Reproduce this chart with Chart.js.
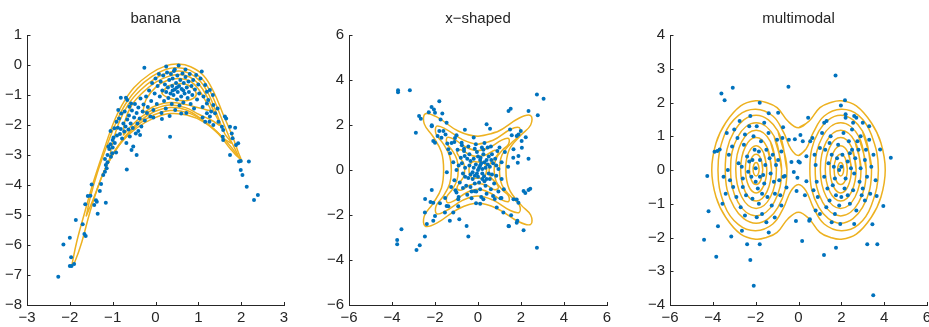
<!DOCTYPE html>
<html>
<head>
<meta charset="utf-8">
<script src="https://cdn.jsdelivr.net/npm/chart.js@4.4.1/dist/chart.umd.min.js"></script>
<style>
  html, body { margin: 0; padding: 0; background: #fff; }
  #wrap { position: relative; width: 929px; height: 327px; overflow: hidden; }
  canvas { position: absolute; top: 0; }
</style>
</head>
<body>
<div id="wrap">
  <canvas id="banana" width="310" height="327" style="left:0px"></canvas>
  <canvas id="xshaped" width="310" height="327" style="left:310px"></canvas>
  <canvas id="multimodal" width="309" height="327" style="left:620px"></canvas>
</div>
<script>
// ---- banana ----
const bananaPoints = [
  [-2.27,-7.06],[-2.15,-5.98],[-2.0,-5.76],[-1.97,-6.41],[-2.0,-6.7],[-1.96,-6.7],[-1.9,-6.63],[-1.86,-5.17],[-1.7,-5.31],
  [-1.66,-5.63],[-1.63,-5.7],[-1.64,-4.64],[-1.58,-4.37],[-1.52,-4.36],[-1.49,-3.98],[-1.43,-4.67],[-1.39,-4.51],[-1.37,-4.56],
  [-1.35,-4.96],[-1.3,-4.2],[-1.27,-3.97],[-1.22,-3.67],[-1.16,-4.59],[-1.18,-3.56],[-1.14,-3.44],[-1.16,-3.33],[-1.12,-3.24],
  [-1.18,-3.13],[-1.12,-3.0],[-1.1,-2.72],[-1.08,-2.8],[-1.05,-2.64],[-1.01,-2.94],[-1.04,-3.06],[-0.98,-2.42],[-1.0,-2.5],
  [-0.96,-2.11],[-0.91,-1.89],[-0.88,-2.09],[-0.81,-2.13],[-0.92,-2.92],[-0.81,-1.09],[-0.69,-1.09],[-0.66,-1.17],[-0.67,-3.48],
  [-0.61,-1.39],[-0.57,-1.28],[-0.52,-2.72],[-0.56,-2.83],[-0.44,-3.0],[-0.36,-2.33],[-0.4,-2.2],[-0.26,-0.09],
  [-0.85,-1.78],[-0.83,-2.3],[-0.8,-1.62],[-0.78,-2.45],[-0.75,-1.95],[-0.73,-2.22],[-0.72,-1.55],[-0.7,-2.05],[-0.68,-2.6],
  [-0.66,-1.82],[-0.63,-2.15],[-0.62,-1.68],[-0.6,-2.38],[-0.58,-1.95],[-0.55,-1.52],[-0.53,-2.1],[-0.5,-1.75],[-0.48,-1.3],
  [-0.46,-2.28],[-0.44,-1.6],[-0.42,-1.95],[-0.4,-1.42],[-0.37,-1.78],[-0.35,-1.12],[-0.33,-2.05],[-0.3,-1.55],[-0.28,-1.32],
  [-0.25,-1.85],[-0.22,-1.05],[-0.2,-1.6],[-0.18,-1.4],[-0.15,-0.85],[-0.12,-1.72],[-0.1,-1.2],[-0.08,-0.6],[-0.05,-1.5],
  [-0.02,-0.95],[-1.05,-2.2],[-0.95,-2.6],[-0.9,-2.35],[-1.0,-2.75],[-0.87,-1.5],
  [0.0,-0.45],[0.03,-1.3],[0.05,-0.7],[0.08,-0.3],[0.1,-1.05],[0.12,-0.55],[0.14,-1.6],[0.16,-0.85],[0.18,-0.35],[0.2,-1.2],
  [0.22,-0.65],[0.24,-1.45],[0.25,-0.9],[0.27,-0.25],[0.29,-0.75],[0.3,-1.1],[0.32,-0.5],[0.33,-1.7],[0.35,-0.95],[0.36,-0.3],
  [0.38,-1.3],[0.39,-0.7],[0.4,-0.45],[0.42,-1.0],[0.43,-0.2],[0.45,-0.82],[0.46,-1.5],[0.48,-0.6],[0.5,-1.15],[0.51,-0.35],
  [0.52,-0.9],[0.54,-0.02],[0.55,-0.7],[0.56,-1.35],[0.58,-0.5],[0.6,-1.05],[0.61,-0.8],[0.63,-0.28],[0.65,-1.25],[0.66,-0.6],
  [0.68,-0.95],[0.7,-0.4],[0.72,-1.6],[0.73,-0.75],[0.75,-1.1],[0.77,-0.55],[0.78,-0.9],[0.8,-0.3],[0.82,-1.3],[0.84,-0.7],
  [0.86,-1.0],[0.88,-0.5],[0.9,-1.45],[0.92,-0.82],[0.95,-0.33],[0.97,-1.15],[1.0,-0.65],[1.02,-0.95],[1.05,-0.45],[1.08,-0.22],
  [0.34,-2.39],[0.15,-1.8],[-0.05,-1.75],[0.6,-1.62],[0.45,-0.15],[0.25,-0.05],[0.7,-0.15],[0.65,-0.85],[0.5,-0.75],[0.4,-0.85],
  [1.16,-0.67],[1.2,-0.89],[1.27,-0.83],[1.34,-1.0],[1.23,-1.17],[1.2,-1.28],[1.35,-1.33],[1.39,-1.61],[1.27,-1.72],[1.2,-1.61],
  [1.16,-1.89],[1.26,-1.89],[1.35,-2.0],[1.47,-1.89],[1.55,-2.06],[1.58,-2.17],[1.62,-1.72],[1.65,-1.78],[1.74,-2.06],[1.78,-2.28],
  [1.57,-2.39],[1.58,-2.5],[1.8,-2.44],[1.86,-2.09],[1.74,-3.0],[1.88,-2.67],[1.93,-2.61],[1.95,-3.22],[1.99,-3.2],[2.18,-3.22],
  [1.99,-3.5],[2.03,-3.67],[2.13,-4.06],[2.3,-4.5],[2.39,-4.33],[1.1,-1.4],[1.12,-1.05],[1.45,-1.45],[1.3,-1.55],[1.1,-1.75]
];
const bananaContours = [
  [[-1.96,-6.72],[-1.84,-5.9],[-1.65,-4.9],[-1.45,-3.9],[-1.22,-2.9],[-1.0,-2.0],[-0.78,-1.33],[-0.5,-0.75],[-0.13,-0.3],[0.25,-0.02],
   [0.53,0.03],[0.82,-0.06],[1.12,-0.35],[1.36,-0.9],[1.58,-1.65],[1.79,-2.35],[1.93,-2.9],[2.01,-3.22],[1.83,-2.85],[1.52,-2.35],
   [1.13,-1.9],[0.73,-1.67],[0.34,-1.62],[-0.05,-1.78],[-0.44,-2.1],[-0.79,-2.57],[-1.06,-3.12],[-1.3,-3.9],[-1.53,-4.9],[-1.72,-5.9],
   [-1.88,-6.55],[-1.96,-6.72]],
  [[-1.62,-5.05],[-1.52,-4.4],[-1.36,-3.6],[-1.15,-2.75],[-0.93,-1.95],[-0.7,-1.3],[-0.42,-0.78],[-0.08,-0.38],[0.25,-0.14],[0.53,-0.09],
   [0.8,-0.17],[1.08,-0.45],[1.3,-0.95],[1.52,-1.7],[1.72,-2.4],[1.93,-3.05],[1.75,-2.8],[1.47,-2.3],[1.1,-1.85],[0.73,-1.58],
   [0.34,-1.52],[-0.03,-1.66],[-0.4,-1.98],[-0.73,-2.45],[-1.0,-3.0],[-1.22,-3.6],[-1.42,-4.35],[-1.62,-5.05]],
  [[-1.08,-3.2],[-1.02,-2.7],[-0.86,-1.95],[-0.64,-1.32],[-0.36,-0.85],[-0.03,-0.47],[0.28,-0.26],[0.55,-0.2],[0.8,-0.28],[1.05,-0.55],
   [1.25,-1.0],[1.45,-1.7],[1.62,-2.3],[1.78,-2.6],[1.6,-2.45],[1.38,-2.15],[1.05,-1.78],[0.72,-1.5],[0.34,-1.42],[-0.02,-1.55],
   [-0.36,-1.86],[-0.66,-2.3],[-0.9,-2.75],[-1.08,-3.2]],
  [[-0.75,-2.35],[-0.72,-1.9],[-0.56,-1.35],[-0.3,-0.92],[0.0,-0.58],[0.3,-0.38],[0.56,-0.32],[0.8,-0.4],[1.02,-0.65],[1.2,-1.05],
   [1.38,-1.6],[1.5,-2.0],[1.32,-1.85],[1.02,-1.65],[0.7,-1.42],[0.34,-1.33],[0.0,-1.45],[-0.32,-1.72],[-0.58,-2.05],[-0.75,-2.35]],
  [[-0.3,-1.6],[-0.22,-1.15],[0.02,-0.72],[0.3,-0.5],[0.58,-0.45],[0.82,-0.55],[1.0,-0.8],[1.15,-1.15],[1.28,-1.5],[1.08,-1.45],
   [0.7,-1.32],[0.35,-1.25],[0.02,-1.35],[-0.3,-1.6]],
  [[0.15,-0.95],[0.3,-0.7],[0.58,-0.62],[0.82,-0.72],[0.95,-1.0],[0.75,-1.18],[0.45,-1.15],[0.15,-0.95],[0.3,-0.7]]
];
const bananaXTicks = [-3, 3, 1];
const bananaYTicks = [-8, 1, 1];

// ---- x-shaped ----
const xPoints = [
  [-3.72,3.55],[-3.72,3.46],[-3.17,3.55],[-2.89,1.66],[-2.74,2.4],[-2.66,2.28],[-2.29,2.57],[-2.16,2.8],[-2.05,2.69],[-1.8,3.06],
  [-2.0,2.54],[-1.66,2.51],[-2.15,1.95],[-2.08,1.29],[-2.0,1.21],[-1.8,1.73],[-1.7,1.43],[-1.74,2.25],[-1.51,1.58],[-1.43,1.18],
  [-1.0,1.54],[-0.76,1.21],[-0.65,0.95],[0.4,2.03],[0.56,1.83],[1.42,2.62],[1.52,2.72],[1.49,1.8],[1.57,1.54],[1.88,1.58],
  [1.99,1.73],[2.35,2.62],[2.74,3.36],[3.05,3.17],[2.78,2.43],[2.22,1.46],[1.88,0.62],[2.04,0.99],[2.35,0.5],[1.65,0.92],
  [2.12,-0.93],[2.35,-0.89],[2.43,-0.83],[1.65,-1.3],[1.88,-1.45],[1.54,-2.01],[1.8,-2.34],[1.83,-2.26],[2.12,-2.68],[1.42,-2.49],
  [2.74,-3.45],[1.18,-1.89],[0.87,-1.67],[0.25,-1.3],[-0.09,-1.48],[-0.53,-2.49],[-0.45,-2.96],[-0.87,-2.19],[-1.15,-1.89],[-1.31,-2.26],
  [-1.54,-1.89],[-1.46,-1.6],[-1.77,-1.48],[-2.08,-1.45],[-2.21,-1.42],[-2.47,-1.89],[-2.08,-2.26],[-2.0,-2.04],[-2.47,-2.96],[-2.71,-3.34],
  [-2.86,-3.55],[-3.56,-2.63],[-3.76,-3.11],[-3.76,-3.3],[-1.0,-1.0],[-0.92,-1.3],[-2.15,1.99],[-1.88,1.51],[-1.61,1.73],[-1.46,2.1],
  [-1.38,0.92],[-1.23,1.2],[-1.07,1.42],[-0.61,1.79],[1.8,1.51],[2.03,1.29],[1.85,0.32],[1.64,0.55],[2.2,-1.02],[1.8,-1.31],
  [1.44,-2.5],[1.09,-1.24],[0.78,-1.29],[-0.15,-0.94],[-0.92,-1.61],[-1.38,-1.61],[-1.53,-1.24],[-2.15,-0.89],[-2.46,-1.29],[-2.38,-2.4],
  [0.05,0.1],[-0.1,0.25],[0.2,-0.15],[-0.25,-0.1],[0.3,0.35],[-0.35,0.4],[0.4,-0.4],[-0.45,-0.35],[0.12,0.55],[-0.15,-0.6],
  [0.55,0.15],[-0.6,0.1],[0.65,-0.2],[-0.7,-0.15],[0.1,-0.85],[-0.05,0.8],[0.25,0.9],[-0.3,-0.95],[0.8,0.5],[-0.8,0.55],
  [0.75,-0.6],[-0.85,-0.55],[0.95,0.05],[-1.0,0.0],[0.0,-0.3],[0.15,0.3],[-0.2,0.1],[0.35,-0.7],[-0.4,0.7],[0.5,0.6],
  [-0.55,-0.7],[0.6,-0.85],[-0.65,0.85],[0.9,0.85],[-0.95,0.9],[0.95,-0.95],[-1.05,-0.9],[1.1,0.35],[-1.15,0.35],[1.1,-0.4],
  [-1.1,-0.45],[0.45,1.0],[-0.45,1.05],[0.4,-1.05],[-0.5,-1.1],[0.2,0.05],[-0.05,-0.15],[0.1,0.45],[-0.2,0.5],[0.3,-0.5],
  [-0.25,-0.4],[0.45,0.25],[-0.4,0.2],[0.55,-0.4],[-0.6,-0.3],[0.7,0.3],[-0.75,0.3],[0.2,-0.4],[0.0,0.6],[0.65,0.7],
  [-0.7,-0.8],[0.15,-1.2],[-0.1,1.15],[0.3,1.2],[-0.3,-1.25],[1.25,0.8],[-1.3,0.75],[1.2,-0.85],[-1.25,-0.75],[0.85,-0.25],
  [-0.9,0.2],[0.05,-0.55],[0.35,0.1],[-0.15,0.95],[0.6,1.05],[-0.75,1.1],[0.7,-1.15],[-0.9,-1.2],[1.0,1.0],[-1.1,1.25],
  [1.05,-1.25],[0.25,0.7],[-0.35,-0.75],[0.85,0.2],[-0.15,-0.25],[0.0,0.0],[0.4,0.45],[-0.5,0.5],[0.5,-0.15],[-0.35,-0.2],
  [0.1,0.2],[0.28,-0.28],[-0.62,0.62],[0.62,0.45],[-0.08,-0.95],[0.18,1.0],[1.4,0.15],[-1.45,-0.1],[0.1,-1.5],[-0.2,1.45]
];
const xContours = [
  [[0,1.5],[0.9,1.7],[1.9,2.3],[2.45,2.42],[2.45,2.0],[2.0,1.55],[1.45,0.9],[1.3,0],[1.45,-0.85],[2.0,-1.55],[2.45,-2.0],[2.45,-2.42],
   [1.9,-2.3],[0.9,-1.72],[0,-1.48],[-0.9,-1.72],[-1.9,-2.35],[-2.45,-2.5],[-2.5,-2.05],[-2.1,-1.5],[-1.7,-0.8],[-1.6,0],[-1.7,0.8],
   [-2.1,1.5],[-2.5,2.05],[-2.45,2.5],[-1.9,2.35],[-0.9,1.72],[0,1.5],[0.9,1.7]],
  [[0,1.15],[0.7,1.32],[1.5,1.8],[1.92,1.88],[1.92,1.55],[1.55,1.2],[1.12,0.68],[1.0,0],[1.12,-0.68],[1.55,-1.2],[1.92,-1.55],[1.92,-1.88],
   [1.5,-1.8],[0.7,-1.34],[0,-1.15],[-0.7,-1.34],[-1.5,-1.82],[-1.92,-1.95],[-1.95,-1.6],[-1.62,-1.17],[-1.32,-0.62],[-1.24,0],[-1.32,0.62],
   [-1.62,1.17],[-1.95,1.6],[-1.92,1.95],[-1.5,1.82],[-0.7,1.34],[0,1.15],[0.7,1.32]],
  [[0,0.86],[0.52,0.99],[1.1,1.33],[1.42,1.4],[1.42,1.15],[1.15,0.9],[0.84,0.5],[0.75,0],[0.84,-0.5],[1.15,-0.9],[1.42,-1.15],[1.42,-1.4],
   [1.1,-1.33],[0.52,-1.0],[0,-0.86],[-0.52,-1.0],[-1.1,-1.36],[-1.42,-1.45],[-1.45,-1.19],[-1.2,-0.87],[-0.98,-0.46],[-0.92,0],[-0.98,0.46],
   [-1.2,0.87],[-1.45,1.19],[-1.42,1.45],[-1.1,1.36],[-0.52,1.0],[0,0.86],[0.52,0.99]],
  [[0,0.6],[0.4,0.68],[0.78,0.88],[0.95,0.78],[0.78,0.52],[0.56,0.28],[0.52,0],[0.56,-0.28],[0.78,-0.52],[0.95,-0.78],[0.78,-0.88],
   [0.4,-0.68],[0,-0.6],[-0.4,-0.68],[-0.8,-0.9],[-0.98,-0.8],[-0.82,-0.52],[-0.66,-0.28],[-0.62,0],[-0.66,0.28],[-0.82,0.52],
   [-0.98,0.8],[-0.8,0.9],[-0.4,0.68],[0,0.6],[0.4,0.68]],
  [[0,0.36],[0.26,0.34],[0.4,0.0],[0.26,-0.34],[0,-0.36],[-0.28,-0.35],[-0.42,0],[-0.28,0.35],[0,0.36],[0.26,0.34]]
];
const xXTicks = [-6, 6, 2];
const xYTicks = [-6, 6, 2];

// ---- multimodal ----
const mPoints = [
  [-3.07,2.44],[-3.6,2.27],[-3.45,2.07],[-3.92,0.54],[-3.79,0.56],[-3.68,0.61],[-4.26,-0.18],[-4.2,-1.22],[-4.41,-2.07],[-3.76,-1.67],
  [-3.84,-2.57],[-3.14,-1.97],[-2.64,-1.8],[-2.4,-2.2],[-2.25,-2.67],[-2.09,-3.43],[-1.81,-2.2],[-1.81,1.99],[-1.39,1.68],[-0.95,1.7],
  [-0.47,2.47],[-0.72,1.27],[0.45,1.55],[1.73,2.8],[1.98,1.91],[2.17,2.07],[2.2,1.65],[2.6,1.6],[1.31,1.45],[3.81,0.61],
  [4.31,0.36],[3.96,-1.07],[3.65,-0.77],[3.21,-2.2],[3.68,-2.2],[3.45,-1.61],[3.49,-3.71],[1.75,-2.3],[1.19,-2.52],[0.17,-2.1],
  [-0.12,-1.51],[0.53,-1.46],[0.5,-1.5],[-1.11,-1.41],[-1.39,-1.85],
  [-0.33,0.24],[0.0,0.25],[0.06,0.22],[0.37,0.41],[0.09,1.04],[-0.17,0.91],[-0.22,-0.06],[-0.05,-0.23],[0.37,-0.33],[-0.09,-0.62],
  [-0.56,-0.52],[0.3,-0.75],[-0.64,-0.18],[0.2,0.85],[-0.45,0.9],[0.55,0.85],[-0.8,-1.05],[0.8,-1.2],
  [-2.0,0.05],[-1.8,0.3],[-2.2,-0.2],[-1.6,-0.4],[-2.4,0.4],[-1.5,0.6],[-2.6,-0.5],[-1.3,-0.1],[-2.8,0.2],[-1.2,0.45],
  [-2.9,-0.8],[-1.1,-0.7],[-3.1,0.7],[-1.0,0.9],[-3.2,-0.3],[-0.9,-0.3],[-2.1,1.0],[-1.85,-1.0],[-2.3,1.3],[-1.7,-1.3],
  [-2.5,1.05],[-1.4,1.1],[-2.7,-1.1],[-1.25,-1.05],[-3.0,1.2],[-0.95,0.3],[-3.3,0.0],[-0.8,0.55],[-3.4,-0.7],[-0.85,-0.75],
  [-2.05,0.6],[-1.9,-0.55],[-2.35,-0.05],[-1.55,0.15],[-2.55,0.75],[-1.45,-0.8],[-2.15,-0.85],[-1.75,0.85],[-2.65,0.1],[-1.35,0.35],
  [-2.45,-0.75],[-1.65,-0.15],[-2.85,0.95],[-1.05,0.15],[-3.05,-0.5],[-1.15,-0.35],[-2.25,1.6],[-1.6,1.4],[-2.75,1.45],[-1.95,-1.4],
  [-2.5,-1.35],[-1.5,-1.55],[-3.25,0.45],[-0.7,-0.2],[-3.5,-0.2],[-0.75,0.95],[-2.0,-0.35],[-1.85,0.55],[-2.3,0.25],[-1.7,-0.7],
  [-2.6,-0.25],[-1.95,1.3],[-2.15,0.3],[-1.8,-0.2],[-3.35,1.1],[-3.55,-1.0],
  [2.0,0.1],[2.2,-0.25],[1.8,0.35],[2.4,0.5],[1.6,-0.45],[2.6,-0.1],[1.4,0.2],[2.8,0.6],[1.2,-0.2],[3.0,-0.55],
  [1.0,0.65],[3.1,0.3],[0.9,-0.8],[3.2,-0.2],[0.8,0.15],[2.1,1.1],[1.9,-1.05],[2.5,1.2],[1.7,-1.3],[2.7,-1.2],
  [1.5,1.0],[2.9,1.0],[1.3,-1.1],[3.1,-0.9],[1.1,1.1],[3.3,0.9],[0.85,-0.35],[3.4,0.1],[0.75,0.45],[2.3,-0.75],
  [1.85,0.75],[2.45,0.05],[1.55,0.45],[2.65,0.35],[1.35,-0.55],[2.85,-0.35],[1.25,0.6],[2.55,-0.6],[1.65,0.1],[2.35,0.85],
  [1.75,-0.75],[2.75,0.85],[1.45,-0.9],[3.0,1.4],[1.2,1.4],[2.2,1.55],[1.95,-1.6],[2.6,-1.6],[1.55,-1.55],[3.35,-0.7],
  [0.7,-0.6],[3.5,0.45],[0.65,0.95],[3.3,1.3],[2.05,0.45],[2.15,-0.55],[1.9,0.0],[2.3,0.25],[1.7,-0.25],[2.5,0.6],
  [2.9,0.05],[1.45,0.8],[2.95,-0.75],[2.4,-1.0],[3.15,0.6],[2.7,1.55],[1.0,-1.3],[3.6,-0.3],[2.55,1.4],[2.0,-0.8]
];
const mContours = [
  [[0,1.25],[0.5,1.45],[1.0,1.85],[1.5,2.0],[2.0,2.05],[2.7,1.9],[3.4,1.4],[3.85,0.8],[4.05,0],[3.85,-0.8],[3.4,-1.4],[2.7,-1.9],
   [2.0,-2.05],[1.5,-2.0],[1.0,-1.85],[0.5,-1.45],[0,-1.25],[-0.5,-1.45],[-1.0,-1.85],[-1.5,-2.0],[-2.0,-2.05],[-2.7,-1.9],[-3.4,-1.4],
   [-3.85,-0.8],[-4.05,0],[-3.85,0.8],[-3.4,1.4],[-2.7,1.9],[-2.0,2.05],[-1.5,2.0],[-1.0,1.85],[-0.5,1.45],[0,1.25],[0.5,1.45]],
  [[0,0.43],[0.35,0.62],[0.7,1.12],[1.2,1.6],[2.0,1.8],[2.8,1.62],[3.4,1.05],[3.73,0],[3.4,-1.05],[2.8,-1.62],[2.0,-1.8],[1.2,-1.6],
   [0.7,-1.12],[0.35,-0.62],[0,-0.43],[-0.35,-0.62],[-0.7,-1.12],[-1.2,-1.6],[-2.0,-1.8],[-2.8,-1.62],[-3.45,-1.05],[-3.76,0],
   [-3.45,1.05],[-2.8,1.62],[-2.0,1.8],[-1.2,1.6],[-0.7,1.12],[-0.35,0.62],[0,0.43],[0.35,0.62]],
  [[-0.54,0.02],[-0.96,1.15],[-1.98,1.62],[-3.0,1.15],[-3.42,0.02],[-3.0,-1.11],[-1.98,-1.58],[-0.96,-1.11],[-0.54,0.02],[-0.96,1.15]],
  [[-0.79,0.02],[-1.14,1.0],[-1.98,1.4],[-2.82,1.0],[-3.17,0.02],[-2.82,-0.96],[-1.98,-1.36],[-1.14,-0.96],[-0.79,0.02],[-1.14,1.0]],
  [[-1.03,0.02],[-1.31,0.84],[-1.98,1.18],[-2.65,0.84],[-2.93,0.02],[-2.65,-0.8],[-1.98,-1.14],[-1.31,-0.8],[-1.03,0.02],[-1.31,0.84]],
  [[-1.26,0.02],[-1.47,0.68],[-1.98,0.96],[-2.49,0.68],[-2.7,0.02],[-2.49,-0.64],[-1.98,-0.92],[-1.47,-0.64],[-1.26,0.02],[-1.47,0.68]],
  [[-1.48,0.02],[-1.63,0.51],[-1.98,0.72],[-2.33,0.51],[-2.48,0.02],[-2.33,-0.47],[-1.98,-0.68],[-1.63,-0.47],[-1.48,0.02],[-1.63,0.51]],
  [[-1.67,0.02],[-1.76,0.34],[-1.98,0.47],[-2.2,0.34],[-2.29,0.02],[-2.2,-0.3],[-1.98,-0.43],[-1.76,-0.3],[-1.67,0.02],[-1.76,0.34]],
  [[-1.84,0.02],[-1.88,0.16],[-1.98,0.22],[-2.08,0.16],[-2.12,0.02],[-2.08,-0.12],[-1.98,-0.18],[-1.88,-0.12],[-1.84,0.02],[-1.88,0.16]],
  [[3.41,0.02],[2.99,1.15],[1.97,1.62],[0.95,1.15],[0.53,0.02],[0.95,-1.11],[1.97,-1.58],[2.99,-1.11],[3.41,0.02],[2.99,1.15]],
  [[3.16,0.02],[2.81,1.0],[1.97,1.4],[1.13,1.0],[0.78,0.02],[1.13,-0.96],[1.97,-1.36],[2.81,-0.96],[3.16,0.02],[2.81,1.0]],
  [[2.92,0.02],[2.64,0.84],[1.97,1.18],[1.3,0.84],[1.02,0.02],[1.3,-0.8],[1.97,-1.14],[2.64,-0.8],[2.92,0.02],[2.64,0.84]],
  [[2.69,0.02],[2.48,0.68],[1.97,0.96],[1.46,0.68],[1.25,0.02],[1.46,-0.64],[1.97,-0.92],[2.48,-0.64],[2.69,0.02],[2.48,0.68]],
  [[2.47,0.02],[2.32,0.51],[1.97,0.72],[1.62,0.51],[1.47,0.02],[1.62,-0.47],[1.97,-0.68],[2.32,-0.47],[2.47,0.02],[2.32,0.51]],
  [[2.28,0.02],[2.19,0.34],[1.97,0.47],[1.75,0.34],[1.66,0.02],[1.75,-0.3],[1.97,-0.43],[2.19,-0.3],[2.28,0.02],[2.19,0.34]],
  [[2.11,0.02],[2.07,0.16],[1.97,0.22],[1.87,0.16],[1.83,0.02],[1.87,-0.12],[1.97,-0.18],[2.07,-0.12],[2.11,0.02],[2.07,0.16]]
];
const mXTicks = [-6, 6, 2];
const mYTicks = [-4, 4, 1];

const dotColor = '#0072BD';
const lineColor = '#EDB120';
const axisColor = '#262626';
const fontFamily = '"Liberation Sans", Arial, Helvetica, sans-serif';

const toXY = arr => arr.map(p => ({ x: p[0], y: p[1] }));
const fmt = v => (v < 0 ? '\u2212' + Math.abs(v) : String(v));

// MATLAB-style ticks pointing into the plot
const innerTicks = {
  id: 'innerTicks',
  afterDatasetsDraw(chart) {
    const { ctx, chartArea, scales } = chart;
    ctx.save();
    ctx.strokeStyle = axisColor;
    ctx.lineWidth = 1;
    ctx.beginPath();
    scales.x.ticks.forEach((t, i) => {
      const px = Math.round(scales.x.getPixelForTick(i)) + 0.5;
      ctx.moveTo(px, chartArea.bottom);
      ctx.lineTo(px, chartArea.bottom - 3);
    });
    scales.y.ticks.forEach((t, i) => {
      const py = Math.round(scales.y.getPixelForTick(i)) + 0.5;
      ctx.moveTo(chartArea.left, py);
      ctx.lineTo(chartArea.left + 3.5, py);
    });
    ctx.stroke();
    ctx.restore();
  }
};

function axis(range, isX, size) {
  return {
    type: 'linear',
    min: range[0],
    max: range[1],
    grid: { display: false, drawTicks: false, tickLength: 0 },
    border: { display: true, color: axisColor, width: 1 },
    ticks: {
      stepSize: range[2],
      padding: isX ? 4 : 5,
      color: axisColor,
      maxRotation: 0,
      autoSkip: false,
      font: { family: fontFamily, size: 15 },
      callback: fmt
    },
    afterFit(scale) {
      if (isX) {
        scale.height = size;
        scale.paddingLeft = 0;
        scale.paddingRight = 0;
      } else {
        scale.width = size;
        scale.paddingTop = 0;
        scale.paddingBottom = 0;
      }
    }
  };
}

function makePanel(id, title, points, contours, xr, yr, yAxisWidth, rightPad) {
  const datasets = [{
    data: toXY(points),
    pointRadius: 2,
    pointHoverRadius: 2,
    pointBackgroundColor: dotColor,
    pointBorderWidth: 0,
    showLine: false
  }];
  contours.forEach(c => {
    datasets.push({
      data: toXY(c),
      showLine: true,
      borderColor: lineColor,
      borderWidth: 1.5,
      pointRadius: 0,
      pointHoverRadius: 0,
      tension: 0.4,
      fill: false
    });
  });
  new Chart(document.getElementById(id), {
    type: 'scatter',
    data: { datasets },
    options: {
      responsive: false,
      animation: false,
      events: [],
      layout: { padding: { left: 0, right: rightPad, top: 0, bottom: 0 } },
      scales: {
        x: axis(xr, true, 22),
        y: axis(yr, false, yAxisWidth)
      },
      plugins: {
        legend: { display: false },
        tooltip: { enabled: false },
        title: {
          display: true,
          text: title,
          fullSize: false,
          color: axisColor,
          font: { family: fontFamily, size: 15, weight: 'normal' },
          padding: { top: 10, bottom: 7 }
        }
      }
    },
    plugins: [innerTicks]
  });
}

makePanel('banana', 'banana', bananaPoints, bananaContours, bananaXTicks, bananaYTicks, 27, 26);
makePanel('xshaped', 'x\u2212shaped', xPoints, xContours, xXTicks, xYTicks, 39, 13);
makePanel('multimodal', 'multimodal', mPoints, mContours, mXTicks, mYTicks, 50, 2);
</script>
</body>
</html>
